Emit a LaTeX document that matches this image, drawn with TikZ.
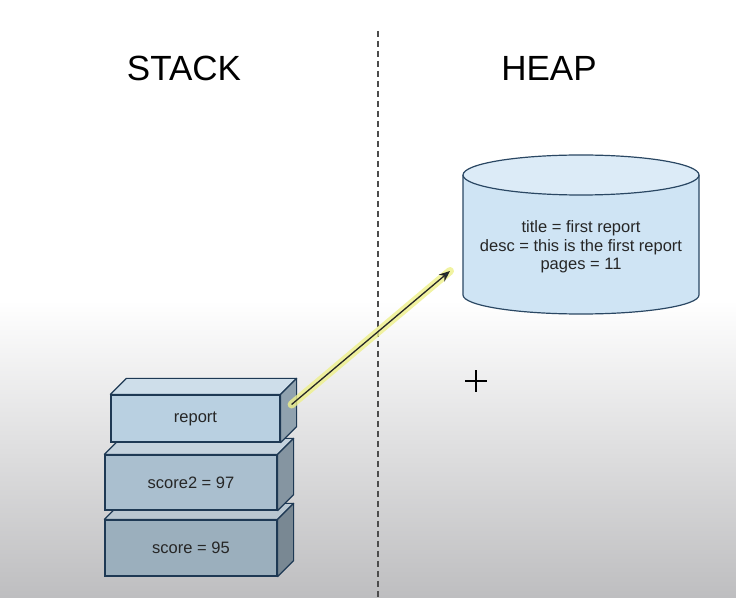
\documentclass[tikz,border=0pt]{standalone}
\usepackage{fontspec}
\setmainfont{Liberation Sans}
\usepackage{xcolor}
\usetikzlibrary{arrows.meta}
\definecolor{bggray}{RGB}{190,190,192}
\definecolor{slotline}{HTML}{1E3954}
\definecolor{slotfill}{HTML}{B9D0E1}
\definecolor{cylline}{HTML}{2A4763}
\definecolor{cylbody}{HTML}{CFE4F4}
\definecolor{cyltop}{HTML}{DCEBF7}
\definecolor{glow}{HTML}{EEF08A}
\definecolor{tipcolor}{HTML}{173A4C}
\tikzset{
 title/.style={font=\fontsize{35}{40}\selectfont},
 slot/.style={draw=slotline, line width=1.2pt, inner sep=0pt,
   text=black!85, font=\fontsize{16.5}{19}\selectfont},
 face/.style={draw=slotline, line width=1.2pt, line join=round},
 divider/.style={draw=black!70, line width=1.5pt, dash pattern=on 6pt off 4pt},
 cyl/.style={draw=cylline, line width=1.2pt},
}

\begin{document}
\begin{tikzpicture}[x=1pt,y=1pt]
        \useasboundingbox (0,0) rectangle (736,597);
        \fill[white] (0,297) rectangle (736,597);
        \shade[top color=white, bottom color=bggray] (0,0) rectangle (736,297);

        \node[title] (stack) at (184,529) {STACK};
        \node[title] (heap) at (549,529) {HEAP};

        \coordinate (divtop) at (378,566);
        \coordinate (divbot) at (378,0);
        \draw[divider] (divtop) -- (divbot);

        % stack frames, bottom one first
        \foreach \name/\x/\y/\w/\h/\p/\txt in {score/191/49/172/56/84/{score = 95},
                score2/191/114.5/172/55/92/{score2 = 97},
                report/195.5/178.5/169/47/100/{report}} {
            \node[slot, fill=slotfill!\p!black, minimum width=\w pt, minimum height=\h pt]
                (\name) at (\x,\y) {\raisebox{-2pt}{\txt}};
            \filldraw[face, fill=slotfill!\p!black!70!white] (\name.north west) -- ++(16,16)
                -- ([shift={(16,16)}]\name.north east) -- (\name.north east) -- cycle;
            \filldraw[face, fill=slotfill!\p!black!78!black] (\name.north east) -- ++(16,16)
                -- ([shift={(16,16)}]\name.south east) -- (\name.south east) -- cycle;
        }

        % heap object
        \filldraw[cyl, fill=cylbody] (463,422) -- (463,302)
            arc[start angle=180, end angle=360, x radius=118, y radius=19] -- (699,422);
        \filldraw[cyl, fill=cyltop] (581,422) ellipse[x radius=118, y radius=20];
        \node[align=center, text=black!85, font=\fontsize{16.5}{18.5}\selectfont]
            (heapobj) at (581,350) {title = first report\\desc = this is the first report\\pages = 11};

        % reference
        \coordinate (refstart) at ([shift={(11,14)}]report.east);
        \coordinate (refend) at (450,326);
        \draw[glow, line width=8pt, line cap=round, opacity=.8] (refstart) -- (refend);
        \draw[line width=1.3pt, black!85, -{Stealth[length=11pt, width=9pt, fill=tipcolor]}]
            (refstart) -- (refend);

        \coordinate (cursor) at (476,216);
        \draw[line width=1.5pt] ([xshift=-11pt]cursor) -- ([xshift=11pt]cursor)
            ([yshift=-11pt]cursor) -- ([yshift=11pt]cursor);
    \end{tikzpicture}
\end{document}
